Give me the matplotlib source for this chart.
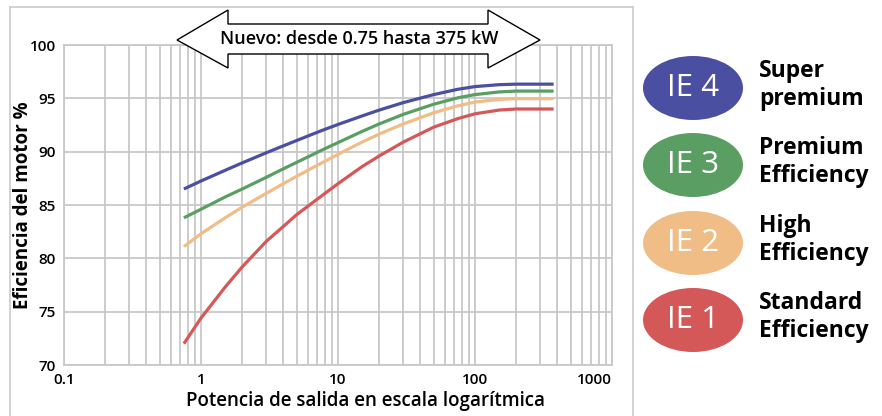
import matplotlib
matplotlib.use('Agg')
import matplotlib.pyplot as plt
from matplotlib.patches import Ellipse, Polygon
from matplotlib.lines import Line2D

plt.rcParams['font.family'] = ['Open Sans', 'DejaVu Sans']

# potencia (kW) y eficiencia (%)
potencia = [0.75, 1, 1.5, 2, 3, 4, 5, 7.5, 10, 15, 20, 30, 50, 75, 100, 150, 200, 375]
ie4 = [86.5, 87.25, 88.25, 88.95, 89.9, 90.55, 91.05, 91.95, 92.55, 93.35, 93.9, 94.6,
       95.35, 95.85, 96.1, 96.28, 96.33, 96.33]
ie3 = [83.8, 84.6, 85.75, 86.5, 87.6, 88.4, 89.0, 90.1, 90.85, 91.9, 92.6, 93.5,
       94.45, 95.05, 95.35, 95.6, 95.68, 95.68]
ie2 = [81.1, 82.3, 83.8, 84.8, 86.1, 87.0, 87.7, 88.9, 89.75, 90.9, 91.65, 92.6,
       93.65, 94.3, 94.65, 94.9, 94.97, 94.97]
ie1 = [72.0, 74.4, 77.3, 79.2, 81.6, 83.0, 84.1, 85.8, 87.0, 88.6, 89.6, 90.9,
       92.3, 93.1, 93.55, 93.9, 94.0, 94.0]

series = [ie4, ie3, ie2, ie1]
colores = ['#4b4fa1', '#5a9e63', '#f0bd86', '#d45858']
etiquetas = ['IE 4', 'IE 3', 'IE 2', 'IE 1']
descripciones = ['Super\npremium', 'Premium\nEfficiency', 'High\nEfficiency', 'Standard\nEfficiency']

xticks = [0.1, 1, 10, 100, 1000]
xticklabels = ['0.1', '1', '10', '100', '1000']
yticks = [70, 75, 80, 85, 90, 95, 100]

W, H = 882, 416
fig = plt.figure(figsize=(W / 100, H / 100), dpi=100)
ax = fig.add_axes([64 / W, 1 - 365 / H, (612 - 64) / W, (365 - 45) / H])

gris = '#c8c8c8'
for y, c in zip(series, colores):
    ax.plot(potencia, y, color=c, lw=2.3, solid_capstyle='butt',
            solid_joinstyle='round', zorder=3)

ax.set_xscale('log')
ax.set_xlim(0.1, 1000)
ax.set_ylim(70, 100)
ax.set_xticks(xticks)
ax.set_xticklabels(xticklabels)
ax.set_yticks(yticks)
ax.grid(True, which='both', axis='x', color=gris, lw=1.3)
ax.grid(True, which='major', axis='y', color=gris, lw=1.3)
ax.tick_params(which='both', length=0, labelsize=11, pad=6)
for lab in ax.get_yticklabels() + ax.get_xticklabels():
    lab.set_fontweight('semibold')
ax.get_xticklabels()[-1].set_horizontalalignment('right')
for s in ax.spines.values():
    s.set_color(gris)
    s.set_linewidth(1.3)

ax.set_xlabel('Potencia de salida en escala logarítmica', fontsize=13.5,
              fontweight='semibold')
ax.xaxis.set_label_coords(0.551, -0.082)
ax.set_ylabel('Eficiencia del motor %', fontsize=13.5, fontweight='bold')
ax.yaxis.set_label_coords(-0.057, 0.5)

# marco exterior
borde = '#cfcfcf'
fig.add_artist(Line2D([10 / W, 10 / W], [0, 1 - 7 / H], color=borde, lw=1.3))
fig.add_artist(Line2D([10 / W, 633 / W], [1 - 7 / H, 1 - 7 / H], color=borde, lw=1.3))
fig.add_artist(Line2D([633 / W, 633 / W], [0, 1 - 7 / H], color=borde, lw=1.3))

# flecha doble
pts = [(177, 40), (228, 10), (228, 24), (488, 24), (488, 10), (540, 40),
       (488, 68), (488, 54), (228, 54), (228, 68)]
fig.add_artist(Polygon([(x / W, 1 - y / H) for x, y in pts], closed=True,
                       facecolor='white', edgecolor='black', lw=1.0, zorder=5))
fig.text(359 / W, 1 - 39 / H, 'Nuevo: desde 0.75 hasta 375 kW', ha='center', va='center',
         fontsize=13, fontweight='semibold', zorder=6)

# leyenda
ys = [88, 165, 243, 320]
for yc, c, et, d in zip(ys, colores, etiquetas, descripciones):
    fig.add_artist(Ellipse((693 / W, 1 - yc / H), 100 / W, 64 / H, facecolor=c,
                           edgecolor='none'))
    fig.text(693 / W, 1 - yc / H, et, ha='center', va='center', color='white',
             fontsize=22.5)
    fig.text(759 / W, 1 - (yc - 3) / H, d, ha='left', va='center', color='black',
             fontsize=16.5, fontweight='bold', linespacing=1.2)

fig.savefig('out.png', dpi=100)
